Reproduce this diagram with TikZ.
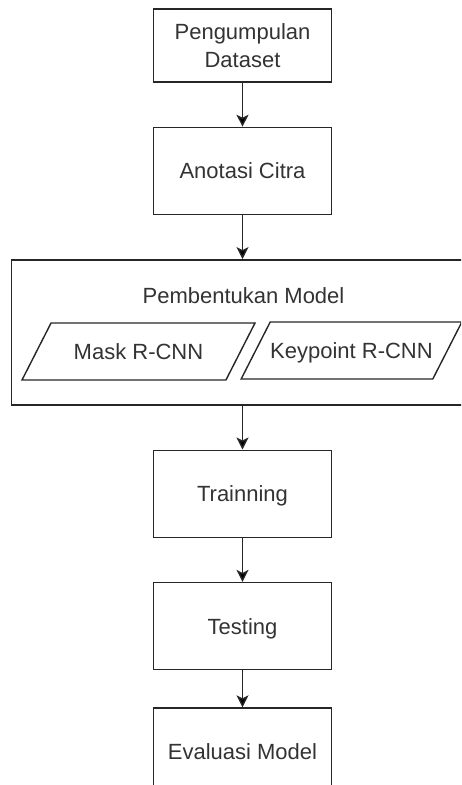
\documentclass[tikz,border=0pt]{standalone}
\usepackage{fontspec}
\setmainfont{Liberation Sans}
\usepackage{tikz}
\usetikzlibrary{arrows,arrows.meta,positioning,shapes.geometric}

\begin{document}
\begin{tikzpicture}[x=1pt,y=1pt,>={Stealth[length=12pt,width=12pt,inset=3pt]},
	every node/.style={font=\fontsize{22}{28}\selectfont,text=black!80},
	stepbox/.style={draw=black!85,line width=1.4pt,minimum width=178pt,minimum height=87pt,align=center,inner sep=0pt,text height=15.8pt,text depth=0pt},
	para/.style={trapezium,trapezium left angle=63,trapezium right angle=117,trapezium stretches body,draw=black!85,line width=1.4pt,minimum width=233pt,inner xsep=0pt,inner ysep=20.6pt,text height=15.8pt,text depth=0pt}]
	\useasboundingbox (0,0) rectangle (461,-785);
	\clip (0,0) rectangle (461,-785);

	\node[stepbox,minimum height=73pt,text height=,text depth=] (data) at (242.5,-45.5) {Pengumpulan\\Dataset};
	\node[stepbox] (anot) [below=44pt of data] {Anotasi Citra};
	\node[stepbox,minimum width=462pt,minimum height=145pt] (model) [below=44pt of anot] {};
	\node (title) at (243.5,-296) {Pembentukan Model};
	\node[para] (mask) at (138.5,-351.5) {Mask R-CNN};
	\node[para,minimum width=217pt] (keyp) at (351.5,-350.5) {Keypoint R-CNN};
	\node[stepbox] (train) [below=44pt of model] {Trainning};
	\node[stepbox] (test) [below=44pt of train] {Testing};
	\node[stepbox] (eval) [below=37pt of test] {Evaluasi Model};

	\path[->,draw=black!85,line width=1.4pt]
	(data) edge (anot)
	(anot) edge (model)
	(model) edge (train)
	(train) edge (test)
	(test) edge (eval)
	;
\end{tikzpicture}
\end{document}
